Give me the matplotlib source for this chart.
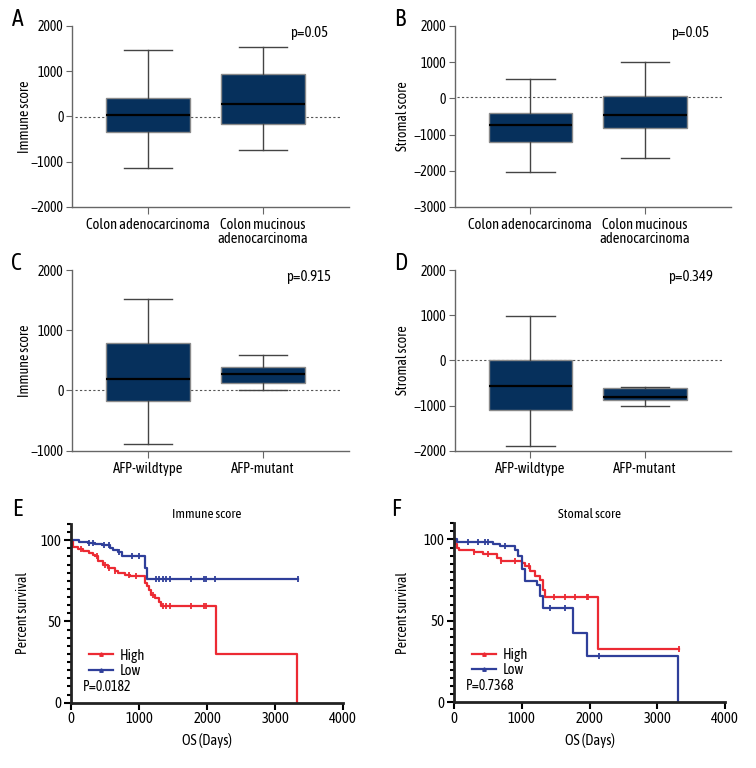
import numpy as np
import matplotlib
matplotlib.use("Agg")
from matplotlib import pyplot as plt
from matplotlib.lines import Line2D

plt.rcParams['font.family'] = ['Asap Condensed', 'Archivo Narrow', 'DejaVu Sans']

# ---- box plot data (q1, median, q3, whisker low, whisker high) ----
box_groups_ab = ['Colon adenocarcinoma', 'Colon mucinous\nadenocarcinoma']
box_groups_cd = ['AFP-wildtype', 'AFP-mutant']

a_med = [37, 267]
a_q1 = [-340, -162]
a_q3 = [400, 933]
a_lo = [-1140, -733]
a_hi = [1465, 1540]

b_med = [-733, -472]
b_q1 = [-1194, -806]
b_q3 = [-400, 72]
b_lo = [-2039, -1653]
b_hi = [536, 1017]

c_med = [189, 278]
c_q1 = [-167, 122]
c_q3 = [789, 389]
c_lo = [-883, 11]
c_hi = [1511, 594]

d_med = [-560, -818]
d_q1 = [-1090, -870]
d_q3 = [10, -620]
d_lo = [-1900, -1000]
d_hi = [973, -590]

# ---- survival data: step times (days) and percent survival ----
e_high_t = [0, 30, 100, 180, 260, 330, 351, 400, 474, 547, 645, 693, 791, 864,
            1083, 1115, 1150, 1180, 1230, 1290, 1327, 2130, 3320]
e_high_s = [100, 96, 94.7, 93.5, 92.4, 91.2, 90.1, 87.0, 85.0, 83.0, 80.9, 79.9, 78.8, 78.0,
            73.7, 71.6, 69.6, 66.5, 64.4, 62.3, 59.7, 29.7, 0]
e_low_t = [0, 120, 250, 351, 449, 571, 620, 693, 742, 1083, 1110, 3330]
e_low_s = [100, 99.2, 98.5, 98.0, 97.3, 95.3, 93.8, 92.6, 90.5, 83.0, 76.2, 76.2]
e_high_cens = [150, 380, 500, 560, 650, 850, 950, 1200, 1350, 1400, 1450, 1770, 1960, 1990]
e_low_cens = [260, 330, 480, 560, 700, 900, 1000, 1250, 1300, 1350, 1400, 1450, 1770, 1960, 1980, 2120, 3330]

f_high_t = [0, 20, 50, 80, 300, 430, 630, 700, 1000, 1047, 1120, 1190, 1268, 1317, 1342, 2129, 3324]
f_high_s = [100, 97, 95, 93.8, 92.2, 90.8, 88.7, 86.6, 85.6, 83.5, 80.5, 77.4, 75.4, 69.2, 64.7, 32.7, 32.7]
f_low_t = [0, 50, 580, 678, 900, 949, 998, 1047, 1219, 1268, 1317, 1760, 1966, 3309]
f_low_s = [100, 98.6, 96.9, 95.9, 93.8, 89.7, 81.7, 74.3, 72.3, 65, 57.9, 42.5, 28.5, 0]
f_high_cens = [300, 500, 700, 900, 1100, 1480, 1630, 1780, 1960, 1981, 3324]
f_low_cens = [200, 350, 450, 500, 750, 1411, 1633, 2143]

box_color = '#06305c'
red = '#ec2a33'
blue = '#2f3f9a'


def box_panel(fig, rect, groups, med, q1, q3, lo, hi, ylim, ylabel, ptext, zero_y, letter, label_x):
    ax = fig.add_axes(rect)
    stats = []
    for i in range(len(groups)):
        stats.append(dict(med=med[i], q1=q1[i], q3=q3[i], whislo=lo[i], whishi=hi[i], fliers=[]))
    ax.bxp(stats, positions=[1, 2], widths=0.73, capwidths=0.42, patch_artist=True,
           showfliers=False,
           boxprops=dict(facecolor=box_color, edgecolor='#8a8a8a', linewidth=1),
           medianprops=dict(color='black', linewidth=1.6),
           whiskerprops=dict(color='#444444', linewidth=1),
           capprops=dict(color='#444444', linewidth=1))
    ax.axhline(zero_y, xmin=0.01, xmax=0.97, color='#555555', linestyle=(0, (2, 2)), linewidth=0.8, zorder=0.5)
    ax.set_xlim(0.34, 2.745)
    ax.set_ylim(*ylim)
    ax.set_yticks(np.arange(ylim[0], ylim[1] + 1, 1000))
    ax.set_xticks([1, 2])
    ax.set_xticklabels(groups, fontsize=10.5, linespacing=1.0)
    ax.tick_params(axis='y', labelsize=10, length=4, color='#666666', pad=2)
    ax.tick_params(axis='x', length=5, color='#666666', pad=3)
    for s in ['top', 'right']:
        ax.spines[s].set_visible(False)
    for s in ['left', 'bottom']:
        ax.spines[s].set_color('#666666')
        ax.spines[s].set_linewidth(1)
    ax.set_ylabel(ylabel, fontsize=10)
    ax.yaxis.set_label_coords(label_x, 0.5)
    ax.text(0.855, 0.96, ptext, transform=ax.transAxes, fontsize=10.5, ha='center', va='center')
    fig.text(rect[0] - 0.08, rect[1] + rect[3] + 0.009, letter, fontsize=17, ha='left', va='center')
    return ax


def step_value(times, surv, t):
    idx = np.searchsorted(times, t, side='right') - 1
    return np.array(surv)[idx]


def km_panel(fig, rect, title, hi_t, hi_s, lo_t, lo_s, hi_c, lo_c, ptext, letter, letter_xy, label_x):
    ax = fig.add_axes(rect)
    ax.step(hi_t, hi_s, where='post', color=red, linewidth=1.6)
    ax.step(lo_t, lo_s, where='post', color=blue, linewidth=1.6)
    ax.plot(hi_c, step_value(hi_t, hi_s, hi_c), linestyle='none', marker='|', color=red, ms=4, mew=1.3)
    ax.plot(lo_c, step_value(lo_t, lo_s, lo_c), linestyle='none', marker='|', color=blue, ms=4, mew=1.3)
    ax.set_xlim(0, 4000)
    ax.set_ylim(0, 110)
    ax.set_xticks([0, 1000, 2000, 3000, 4000])
    ax.set_yticks([0, 50, 100])
    ax.set_yticks(np.arange(0, 111, 5), minor=True)
    ax.tick_params(axis='both', labelsize=10.5, length=5, width=1.5, pad=2)
    ax.tick_params(axis='y', which='minor', length=3, width=1.5)
    for s in ['top', 'right']:
        ax.spines[s].set_visible(False)
    for s in ['left', 'bottom']:
        ax.spines[s].set_linewidth(2)
        ax.spines[s].set_color('#222222')
    ax.set_title(title, fontsize=9.5, pad=4)
    ax.set_xlabel('OS (Days)', fontsize=10.5)
    ax.xaxis.set_label_coords(0.5, -0.17)
    ax.set_ylabel('Percent survival', fontsize=10)
    ax.yaxis.set_label_coords(label_x, 0.5)
    handles = [Line2D([], [], color=red, lw=1.6, marker='^', ms=2.5),
               Line2D([], [], color=blue, lw=1.6, marker='^', ms=2.5)]
    ax.legend(handles, ['High', 'Low'], loc='upper left', bbox_to_anchor=(0.03, 0.36), frameon=False,
              fontsize=10.5, handlelength=1.6, handletextpad=0.5, labelspacing=0.1, borderpad=0.2)
    ax.text(0.045, 0.09, ptext, transform=ax.transAxes, fontsize=10, ha='left', va='center')
    fig.text(letter_xy[0], letter_xy[1], letter, fontsize=17, ha='left', va='center')
    return ax


fig = plt.figure(figsize=(7.56, 7.68), dpi=100)

box_panel(fig, [0.0952, 0.7305, 0.3664, 0.2357], box_groups_ab, a_med, a_q1, a_q3, a_lo, a_hi,
          (-2000, 2000), 'Immune score', 'p=0.05', -15, 'A', -0.144)
box_panel(fig, [0.6014, 0.7305, 0.3651, 0.2357], box_groups_ab, b_med, b_q1, b_q3, b_lo, b_hi,
          (-3000, 2000), 'Stromal score', 'p=0.05', 40, 'B', -0.162)
box_panel(fig, [0.0952, 0.4132, 0.3664, 0.2352], box_groups_cd, c_med, c_q1, c_q3, c_lo, c_hi,
          (-1000, 2000), 'Immune score', 'p=0.915', 15, 'C', -0.144)
box_panel(fig, [0.6014, 0.4132, 0.3651, 0.2352], box_groups_cd, d_med, d_q1, d_q3, d_lo, d_hi,
          (-2000, 2000), 'Stromal score', 'p=0.349', 0, 'D', -0.162)

km_panel(fig, [0.0939, 0.085, 0.3602, 0.2327], 'Immune score', e_high_t, e_high_s, e_low_t, e_low_s,
         e_high_cens, e_low_cens, 'P=0.0182', 'E', (0.016, 0.337), -0.15)
km_panel(fig, [0.6005, 0.0855, 0.3589, 0.2333], 'Stomal score', f_high_t, f_high_s, f_low_t, f_low_s,
         f_high_cens, f_low_cens, 'P=0.7368', 'F', (0.518, 0.337), -0.162)

fig.savefig('out.png', dpi=100)
